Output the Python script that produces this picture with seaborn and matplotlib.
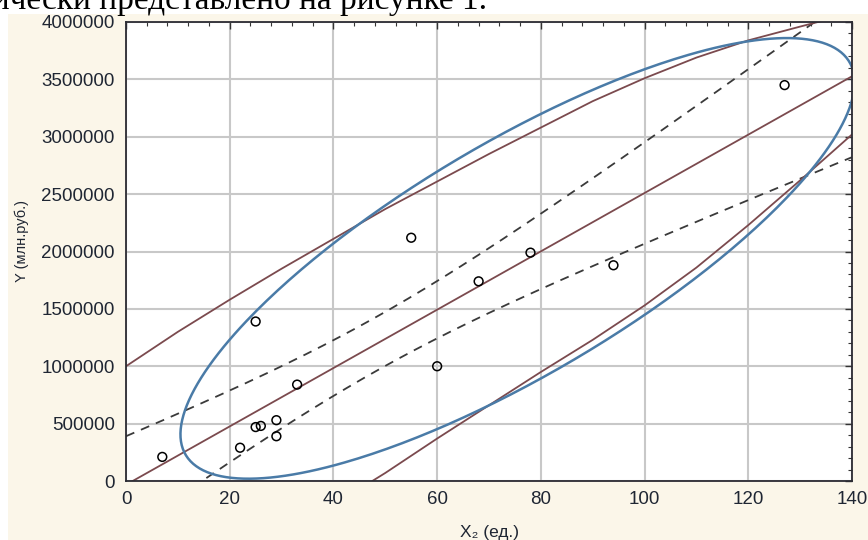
import numpy as np
import pandas as pd
import matplotlib
matplotlib.use('Agg')
import matplotlib.pyplot as plt
import seaborn as sns
from matplotlib.ticker import MultipleLocator
from matplotlib.patches import Rectangle

# observed points
x2 = [7, 22, 25, 25, 26, 29, 29, 33, 55, 60, 68, 78, 94, 127]
y_rub = [210000, 290000, 1390000, 470000, 480000, 530000, 390000, 840000,
         2120000, 1000000, 1740000, 1990000, 1880000, 3450000]

# solid outer bands
upper_x = [0, 10, 20, 30, 40, 50, 60, 70, 80, 90, 100, 110, 120, 130, 136]
upper_y = [1000000, 1300000, 1580000, 1850000, 2110000, 2370000, 2610000, 2850000,
           3080000, 3310000, 3510000, 3690000, 3840000, 3960000, 4030000]
lower_x = [47.5, 50, 60, 70, 80, 90, 100, 110, 120, 130, 140]
lower_y = [0, 70000, 370000, 660000, 950000, 1230000, 1530000, 1860000,
           2230000, 2620000, 3020000]

# ellipse: centre, half-ranges and phase shift (degrees)
ell_center = (75.5, 1940000)
ell_half = (65, 1920000)
ell_phase = 37

x_ticks = [0, 20, 40, 60, 80, 100, 120, 140]
y_ticks = [0, 500000, 1000000, 1500000, 2000000, 2500000, 3000000, 3500000, 4000000]

sns.set_style('white')
plt.rcParams['font.family'] = ['Liberation Sans', 'DejaVu Sans']

fig = plt.figure(figsize=(8.68, 5.40), dpi=100)
fig.patch.set_facecolor('white')
fig.patches.append(Rectangle((8 / 868, 0), 1, 1 - 14 / 540, transform=fig.transFigure,
                             facecolor='#FBF6E9', edgecolor='none', zorder=-10))
fig.text(487 / 868, 1 - 9 / 540, 'графически представлено на рисунке 1.', ha='right',
         va='baseline', fontsize=24, family=['Liberation Serif', 'DejaVu Serif'], color='black')

ax = fig.add_axes([126 / 868, 59 / 540, 726 / 868, 459 / 540])
ax.set_facecolor('white')

# regression line and 95% confidence band
x = np.array(x2, dtype=float)
y = np.array(y_rub, dtype=float)
b, a = np.polyfit(x, y, 1)
n = len(x)
s = np.sqrt(np.sum((y - (a + b * x)) ** 2) / (n - 2))
sxx = np.sum((x - x.mean()) ** 2)
t = 2.1788
grid = np.linspace(0, 140, 300)
fit = a + b * grid
hw = t * s * np.sqrt(1 / n + (grid - x.mean()) ** 2 / sxx)
reg = pd.DataFrame({'x': grid, 'fit': fit, 'lo': fit - hw, 'hi': fit + hw})

brown = '#7B4A4E'
sns.lineplot(data=reg, x='x', y='fit', ax=ax, color=brown, lw=1.3)
sns.lineplot(data=reg, x='x', y='hi', ax=ax, color='#3a3a3a', lw=1.3, linestyle=(0, (5, 4)))
sns.lineplot(data=reg, x='x', y='lo', ax=ax, color='#3a3a3a', lw=1.3, linestyle=(0, (5, 4)))

ax.plot(upper_x, upper_y, color=brown, lw=1.3)
ax.plot(lower_x, lower_y, color=brown, lw=1.3)

tt = np.linspace(0, 2 * np.pi, 400)
ph = np.deg2rad(ell_phase)
ax.plot(ell_center[0] + ell_half[0] * np.cos(tt),
        ell_center[1] + ell_half[1] * np.cos(tt - ph), color='#4A7BA7', lw=1.8)

pts = pd.DataFrame({'x': x2, 'y': y_rub})
sns.scatterplot(data=pts, x='x', y='y', ax=ax, marker='o', s=40, facecolor='none',
                edgecolor='black', linewidth=1.1, zorder=5)

ax.set_xlim(0, 140)
ax.set_ylim(0, 4000000)
ax.set_xticks(x_ticks)
ax.set_xticklabels([str(v) for v in x_ticks])
ax.set_yticks(y_ticks)
ax.set_yticklabels([str(v) for v in y_ticks])
ax.xaxis.set_minor_locator(MultipleLocator(4))
ax.yaxis.set_minor_locator(MultipleLocator(100000))
ax.tick_params(which='both', direction='in', top=True, right=True, color='#333333',
               labelsize=13.5, labelcolor='#1f2633')
ax.tick_params(which='major', length=5, width=1)
ax.tick_params(which='minor', length=3, width=0.8)
ax.tick_params(axis='x', pad=7)
ax.tick_params(axis='y', pad=8)
ax.grid(True, which='major', color='#C8C8C8', lw=1.5)
ax.set_axisbelow(True)
for sp in ax.spines.values():
    sp.set_color('#2b2b33')
    sp.set_linewidth(1.3)

ax.set_xlabel('X₂ (ед.)', fontsize=12.5, color='#1f2633')
ax.set_ylabel('Y (млн.руб.)', fontsize=10.5, color='#1f2633')
ax.xaxis.set_label_coords(0.5, -(525 - 481) / 459)
ax.yaxis.set_label_coords(-(126 - 29) / 726, (481 - 241) / 459)

fig.savefig('out.png', dpi=100)
